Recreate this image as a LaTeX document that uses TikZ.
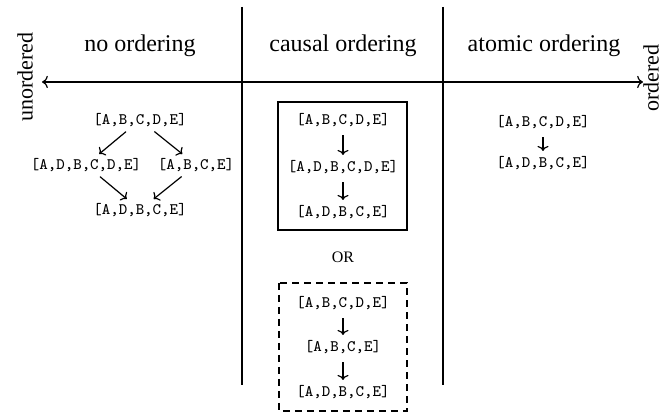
\documentclass[tikz,border=0pt]{standalone}
\usepackage{fontspec}
\setmainfont{Liberation Serif}
\usetikzlibrary{arrows.meta,positioning}

\begin{document}
\begin{tikzpicture}[x=0.5pt,y=-0.5pt,every node/.style={font=\large},
  lst/.style={font=\ttfamily\footnotesize,inner sep=1pt},
  hd/.style={anchor=base},
  side/.style={rotate=90,font=\fontsize{11}{13}\selectfont},
  flow/.style={-{To[length=2.5pt,width=5.5pt]},semithick,shorten <=3pt,shorten >=1.5pt}]
\useasboundingbox (0,0) rectangle (661,415);
% axis and column rules
\coordinate (axl) at (42,82);
\coordinate (axr) at (643,82);
\draw[semithick,<->] (axl) -- (axr);
\draw[thick] (242,7) -- (242,385);
\draw[thick] (443,7) -- (443,385);
\node[side] (unord) at (25,77) {unordered};
\node[side] (ord) at (651,78) {ordered};
% headers
\node[hd] (h1) at (140,52) {no ordering};
\node[hd] (h2) at (343,52) {causal ordering};
\node[hd] (h3) at (544,52) {atomic ordering};
% no ordering
\node[lst] (n1) at (140,120) {[A,B,C,D,E]};
\node[lst] (n2) at (86,165) {[A,D,B,C,D,E]};
\node[lst] (n3) at (196,165) {[A,B,C,E]};
\node[lst] (n4) at (140,210) {[A,D,B,C,E]};
\draw[flow,shorten <=2pt] (n1) -- (n2);
\draw[flow,shorten <=2pt] (n1) -- (n3);
\draw[flow,shorten <=2pt] (n2) -- (n4);
\draw[flow,shorten <=2pt] (n3) -- (n4);
% causal ordering
\node[lst] (c1) at (343,120) {[A,B,C,D,E]};
\node[lst] (c2) at (343,167) {[A,D,B,C,D,E]};
\node[lst] (c3) at (343,212) {[A,D,B,C,E]};
\draw[flow] (c1) -- (c2);
\draw[flow] (c2) -- (c3);
\draw[thick] (278,102) rectangle (407,230);
\node[font=\footnotesize] (or) at (343,257) {OR};
\node[lst] (d1) at (343,303) {[A,B,C,D,E]};
\node[lst] (d2) at (343,347) {[A,B,C,E]};
\node[lst] (d3) at (343,392) {[A,D,B,C,E]};
\draw[flow] (d1) -- (d2);
\draw[flow] (d2) -- (d3);
\draw[thick,dash pattern=on 3.5pt off 2.5pt] (279,283) rectangle (407,411);
% atomic ordering
\node[lst] (a1) at (543,122) {[A,B,C,D,E]};
\node[lst] (a2) at (543,163) {[A,D,B,C,E]};
\draw[flow] (a1) -- (a2);
\end{tikzpicture}
\end{document}
